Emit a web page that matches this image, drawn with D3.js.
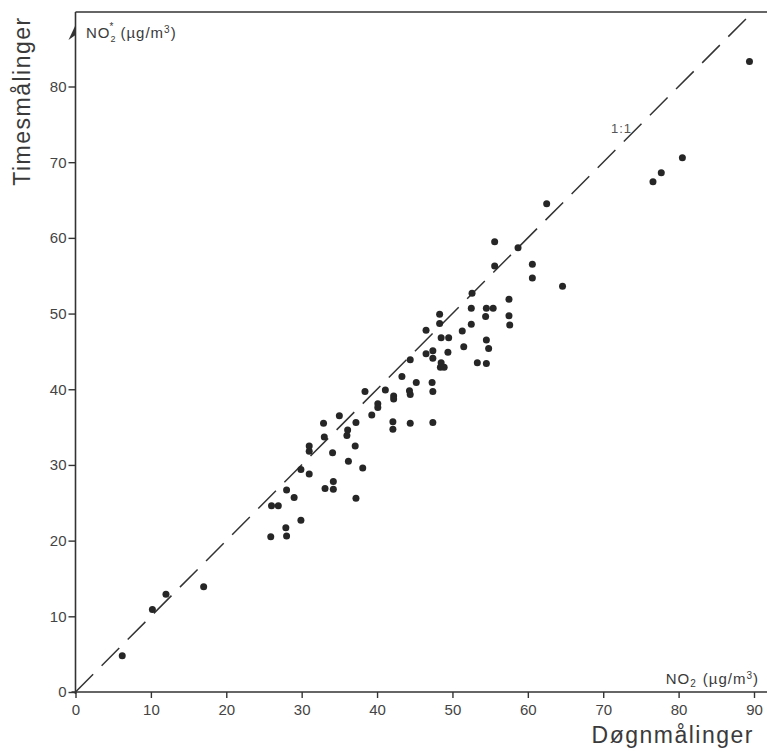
<!DOCTYPE html>
<html>
<head>
<meta charset="utf-8">
<script src="https://cdn.jsdelivr.net/npm/d3@7"></script>
<style>
  html, body { margin: 0; padding: 0; background: #fff; }
  svg { display: block; }
  text { font-family: "Liberation Sans", Arial, sans-serif; fill: #3a3a3a; }
</style>
</head>
<body>
<svg id="chart" width="767" height="752"></svg>
<script>
// Døgnmålinger (daily measurements), NO2 µg/m3
const dognValues = [
  6.2, 10.2, 12.0, 17.0, 25.9, 26.0, 26.9, 27.9, 28.0, 28.0,
  29.0, 29.9, 29.9, 31.0, 31.0, 31.0, 32.9, 33.0, 33.1, 34.1,
  34.2, 34.2, 35.0, 36.0, 36.1, 36.2, 37.1, 37.2, 37.2, 38.1,
  38.4, 39.3, 40.1, 40.1, 41.1, 42.1, 42.1, 42.2, 42.2, 43.3,
  44.3, 44.4, 44.4, 44.4, 45.2, 46.5, 46.5, 47.3, 47.4, 47.4,
  47.4, 47.4, 48.3, 48.3, 48.4, 48.5, 48.9, 48.5, 49.5, 49.4,
  51.3, 51.5, 52.5, 52.5, 52.6, 53.3, 54.4, 54.5, 55.4, 54.5,
  54.8, 54.5, 55.6, 55.6, 57.5, 57.5, 57.6, 58.7, 60.6, 60.6,
  62.5, 64.6, 76.6, 77.7, 80.5, 89.4
];
// Timesmålinger (hourly measurements), NO2* µg/m3
const timeValues = [
  4.8, 10.9, 12.9, 13.9, 20.5, 24.6, 24.6, 21.7, 20.6, 26.7,
  25.7, 22.7, 29.4, 28.8, 31.8, 32.5, 35.5, 33.7, 26.9, 31.6,
  27.8, 26.8, 36.5, 33.9, 34.6, 30.5, 32.5, 35.6, 25.6, 29.6,
  39.7, 36.6, 38.1, 37.6, 39.9, 35.7, 34.7, 39.1, 38.7, 41.7,
  39.8, 39.3, 35.5, 43.9, 40.9, 47.8, 44.7, 40.9, 39.7, 35.6,
  45.1, 44.1, 49.9, 48.7, 42.9, 43.5, 42.9, 46.8, 46.8, 44.9,
  47.7, 45.6, 48.6, 50.7, 52.7, 43.5, 49.6, 50.7, 50.7, 46.5,
  45.4, 43.4, 59.5, 56.3, 51.9, 49.7, 48.5, 58.7, 56.5, 54.7,
  64.5, 53.6, 67.4, 68.6, 70.6, 83.3
];
const xTicks = [0, 10, 20, 30, 40, 50, 60, 70, 80, 90];
const yTicks = [0, 10, 20, 30, 40, 50, 60, 70, 80];
const oneToOne = [0, 90];

const svg = d3.select("#chart");
const W = 767;

const x = d3.scaleLinear().domain([0, 90]).range([75.5, 754]);
const y = d3.scaleLinear().domain([0, 80]).range([692, 86.5]);
const yTop = y.invert(12);
const xRight = x.invert(W);

const ink = "#333";

// frame lines: left axis, top border, bottom axis
svg.append("line").attr("x1", x(0)).attr("x2", x(0)).attr("y1", y(yTop)).attr("y2", y(0) + 2)
  .attr("stroke", ink).attr("stroke-width", 1.6);
svg.append("line").attr("x1", x(0)).attr("x2", x(xRight)).attr("y1", y(yTop)).attr("y2", y(yTop))
  .attr("stroke", ink).attr("stroke-width", 1.6);
svg.append("line").attr("x1", x(0) - 4).attr("x2", x(xRight)).attr("y1", y(0)).attr("y2", y(0))
  .attr("stroke", ink).attr("stroke-width", 1.6);

// axes (ticks + labels)
const xAxis = d3.axisBottom(x).tickValues(xTicks).tickSize(6).tickPadding(6).tickSizeOuter(0);
const gx = svg.append("g").attr("transform", `translate(0,${y(0)})`).call(xAxis);
gx.select(".domain").remove();
gx.selectAll(".tick line").attr("stroke", ink).attr("stroke-width", 1.4);
gx.selectAll(".tick text").attr("font-size", 15).style("fill", "#444")
  .attr("font-family", "Liberation Sans, Arial, sans-serif");

const yAxis = d3.axisLeft(y).tickValues(yTicks).tickSize(7).tickPadding(2).tickSizeOuter(0);
const gy = svg.append("g").attr("transform", `translate(${x(0)},0)`).call(yAxis);
gy.select(".domain").remove();
gy.selectAll(".tick line").attr("stroke", ink).attr("stroke-width", 1.4);
gy.selectAll(".tick text").attr("font-size", 15).style("fill", "#444")
  .attr("font-family", "Liberation Sans, Arial, sans-serif");

// arrow head at top of y axis (half arrow)
const ax = x(0), ay = y(yTop);
svg.append("path")
  .attr("d", `M${ax},${ay + 13} L${ax - 7},${ay + 28} L${ax},${ay + 23} Z`)
  .attr("fill", ink);

// 1:1 dashed line
svg.append("line")
  .attr("x1", x(oneToOne[0])).attr("y1", y(oneToOne[0]))
  .attr("x2", x(yTop)).attr("y2", y(yTop))
  .attr("stroke", ink).attr("stroke-width", 1.5)
  .attr("stroke-dasharray", "25,12");

svg.append("text").attr("x", 611).attr("y", 133).attr("font-size", 13)
  .attr("letter-spacing", 1).style("fill", "#555").text("1:1");

// points
const pts = dognValues.map((d, i) => [d, timeValues[i]]);
svg.append("g").selectAll("circle").data(pts).join("circle")
  .attr("cx", d => x(d[0])).attr("cy", d => y(d[1])).attr("r", 3.5)
  .attr("fill", "#262626");

// unit labels
const yl = svg.append("text").attr("x", 86).attr("y", 38).attr("font-size", 15)
  .attr("letter-spacing", 1);
yl.append("tspan").text("NO");
yl.append("tspan").attr("font-size", 9).attr("dy", 4).text("2");
yl.append("tspan").attr("font-size", 10).attr("dx", -7).attr("dy", -12).text("*");
yl.append("tspan").attr("dy", 8).attr("dx", 6).text("(µg/m");
yl.append("tspan").attr("font-size", 10).attr("dy", -5).text("3");
yl.append("tspan").attr("dy", 5).text(")");

const xl = svg.append("text").attr("x", 759).attr("y", 684).attr("font-size", 15)
  .attr("letter-spacing", 1).attr("text-anchor", "end");
xl.append("tspan").text("NO");
xl.append("tspan").attr("font-size", 10).attr("dy", 3).text("2");
xl.append("tspan").attr("dy", -3).attr("dx", 6).text("(µg/m");
xl.append("tspan").attr("font-size", 10).attr("dy", -5).text("3");
xl.append("tspan").attr("dy", 5).text(")");

// axis titles
svg.append("text").attr("x", 754).attr("y", 743).attr("font-size", 23)
  .attr("letter-spacing", 1.5).attr("text-anchor", "end")
  .text("Døgnmålinger");
svg.append("text").attr("transform", "translate(30,101) rotate(-90)").attr("font-size", 23)
  .attr("letter-spacing", 1.5).attr("text-anchor", "middle").text("Timesmålinger");
</script>
</body>
</html>
